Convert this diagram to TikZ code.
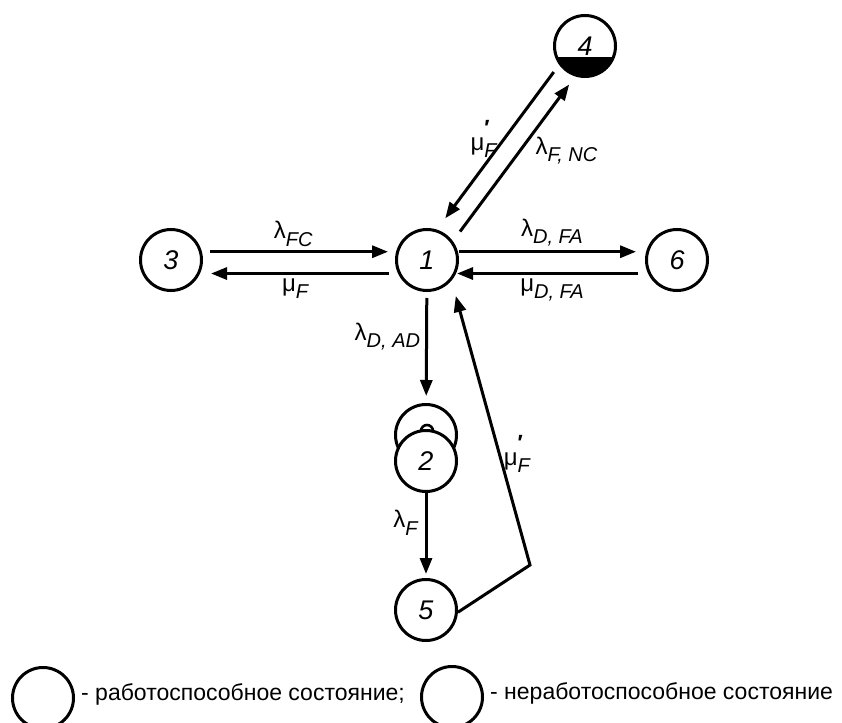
\documentclass[tikz,border=0pt]{standalone}
\usepackage{fontspec}
\setmainfont{Liberation Sans}
\usetikzlibrary{arrows.meta}
\newcommand{\ratesub}[1]{\raisebox{-0.3em}{\fontsize{20}{20}\selectfont\itshape #1}}
\newcommand{\primemark}{\makebox[0pt][l]{\raisebox{0.62em}{\fontsize{22}{22}\selectfont\bfseries ′}}}
\begin{document}
\begin{tikzpicture}[x=1pt, y=1pt,
    state/.style = {circle, draw, line width=3pt, fill=white, minimum size=61pt, inner sep=0pt,
                    font=\fontsize{27}{27}\selectfont\itshape},
    link/.style = {->, line width=3pt, shorten <=8pt, shorten >=8pt},
    rate/.style = {font=\fontsize{24}{24}\selectfont, inner sep=2pt},
    legendtext/.style = {font=\fontsize{23}{23}\selectfont, inner sep=0pt, anchor=west},
    >={Triangle[length=16pt, width=12pt]}]
  \useasboundingbox (0,0) rectangle (842,-722);

  % States.
  \node at (427, -260) [state, name=State1] {1};
  \node at (171, -260) [state, name=State3] {3};
  \node at (677, -260) [state, name=State6] {6};
  \node at (585, -46) [state, name=State4] {4};
  \fill (State4.center) ++(-21:31pt) arc[start angle=-21, end angle=-159, radius=31pt] -- cycle;
  \node at (426, -435) [state, name=State2back] {};
  \draw [line width=2.6pt] (421, -431) arc[start angle=180, end angle=0, radius=6pt];
  \node at (426, -461) [state, name=State2] {2};
  \node at (426, -610) [state, name=State5] {5};

  % Corner of the return path from 5 to 1.
  \coordinate (bend) at (530, -565);

  % Transitions.
  \draw [link] (State3.15)
               to node [rate, above=2pt, pos=0.47] {λ\ratesub{FC}}
               (State1.165);
  \draw [link, shorten <=9pt, shorten >=11pt] (State1.-155)
               to node [rate, below=2pt, pos=0.52] {μ\ratesub{F}}
               (State3.-25);
  \draw [link, shorten <=1pt, shorten >=10pt] (State1.15)
               to node [rate, above=2pt] {λ\ratesub{D, FA}}
               (State6.165);
  \draw [link, shorten <=10pt, shorten >=1pt] (State6.-155)
               to node [rate, below=2pt] {μ\ratesub{D, FA}}
               (State1.-25);
  \draw [link, shorten <=9pt, shorten >=14pt] (State4.216)
               to node [rate, left=4pt, pos=0.45] {μ\primemark\ratesub{F}}
               (State1.72);
  \draw [link, shorten <=12pt, shorten >=10pt] (State1.36)
               to node [rate, right=12pt, pos=0.55] {λ\ratesub{F, NC}}
               (State4.252);
  \draw [link, shorten <=6pt, shorten >=7pt] (State1)
               to node [rate, left=3pt, pos=0.4] {λ\ratesub{D, AD}}
               (State2back);
  \draw [link, shorten <=0pt, shorten >=4pt] (State2)
               to node [rate, left=5pt, pos=0.35] {λ\ratesub{F}}
               (State5);
  \draw [link, shorten <=0pt, shorten >=16pt] (State5.-4)
               -- (bend)
               to node [rate, right=1pt, pos=0.39] {μ\primemark\ratesub{F}}
               (State1.-40);

  % Legend.
  \node at (43, -698) [state, name=LegendUp] {};
  \node at ([xshift=6pt, yshift=4pt]LegendUp.east) [legendtext, name=LegendUpText] {- работоспособное состояние;};
  \node at (452, -697) [state, name=LegendDown] {};
  \node at ([xshift=6pt, yshift=4pt]LegendDown.east) [legendtext, name=LegendDownText] {- неработоспособное состояние};
\end{tikzpicture}
\end{document}
